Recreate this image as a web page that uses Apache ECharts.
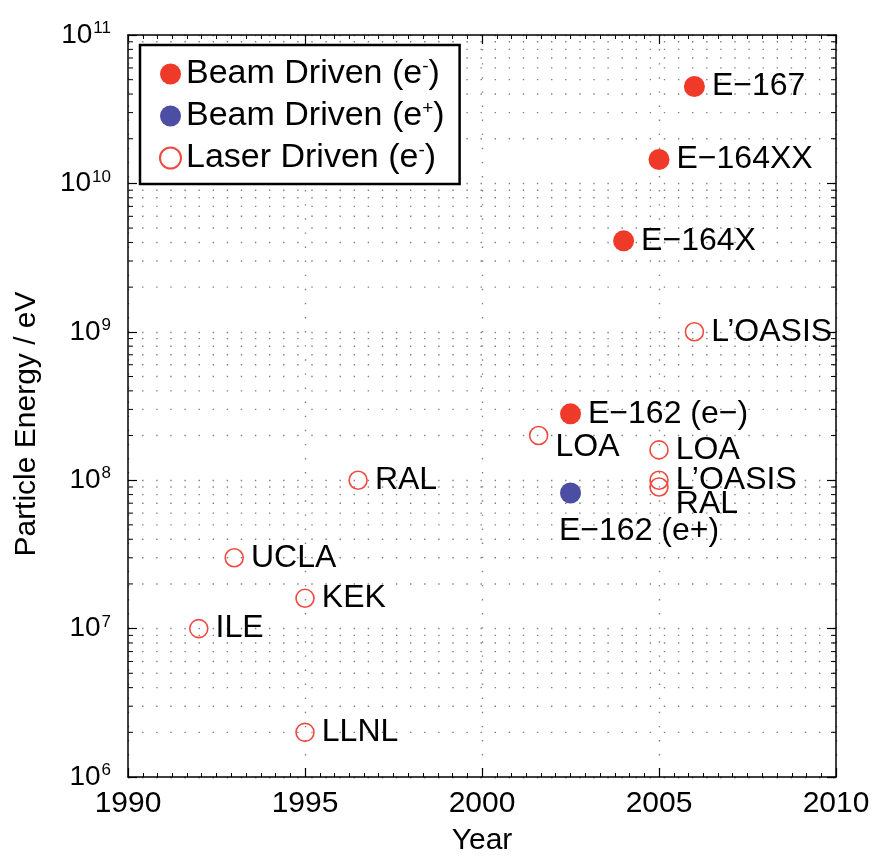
<!DOCTYPE html>
<html>
<head>
<meta charset="utf-8">
<script src="https://cdn.jsdelivr.net/npm/echarts@6/dist/echarts.min.js"></script>
<style>
  html, body { margin: 0; padding: 0; background: #fff; }
  #chart { width: 874px; height: 861px; }
</style>
</head>
<body>
<div id="chart"></div>
<script>
// ---------------- data ----------------
const beamEYears    = [2006, 2005, 2004, 2002.5];
const beamEEnergies = [4.5e10, 1.45e10, 4.1e9, 2.8e8];
const beamENames    = ['E\u2212167', 'E\u2212164XX', 'E\u2212164X', 'E\u2212162 (e\u2212)'];

const beamPYears    = [2002.5];
const beamPEnergies = [8.2e7];
const beamPNames    = ['E\u2212162 (e+)'];

const laserYears    = [2006, 2001.6, 2005, 2005, 2005, 1996.5, 1993, 1995, 1992, 1995];
const laserEnergies = [1e9, 2e8, 1.6e8, 1e8, 9e7, 1e8, 3e7, 1.6e7, 1e7, 2e6];
const laserNames    = ['L\u2019OASIS', 'LOA', 'LOA', 'L\u2019OASIS', 'RAL', 'RAL', 'UCLA', 'KEK', 'ILE', 'LLNL'];

const seriesNames = ['Beam Driven (e-)', 'Beam Driven (e+)', 'Laser Driven (e-)'];
const xTicks = [1990, 1995, 2000, 2005, 2010];
const yDecades = [6, 7, 8, 9, 10, 11];

// ---------------- styling (kept separate from data) ----------------
const RED = '#ef3a2a';
const BLUE = '#4b4ea3';
const HOLLOW = '#ef4a40';
const FONT = '"Liberation Sans", Arial, Helvetica, sans-serif';

// label offsets keyed by series and index
const labelOffsets = {
  'laser-1': { offset: [0, 12] },
  'laser-4': { offset: [0, 17] },
  'beamP-0': { offset: [-22, 38], distance: 0 }
};

function buildData(prefix, years, energies, names) {
  return years.map((y, i) => {
    const item = { value: [y, energies[i]], name: names[i] };
    const o = labelOffsets[prefix + '-' + i];
    if (o) item.label = Object.assign({}, o);
    return item;
  });
}

// minor log gridline values (2..9 x 10^k)
const minorVals = [];
for (let k = 6; k < 11; k++) {
  for (let m = 2; m <= 9; m++) minorVals.push([m * Math.pow(10, k)]);
}

const labelStyle = {
  show: true,
  position: 'right',
  distance: 7,
  formatter: p => p.name,
  color: '#000',
  fontFamily: FONT,
  fontSize: 32
};

const legendRich = {
  t: { fontFamily: FONT, fontSize: 34, color: '#000', lineHeight: 34 },
  s: { fontFamily: FONT, fontSize: 19, color: '#000', verticalAlign: 'top', lineHeight: 19 }
};

const chart = echarts.init(document.getElementById('chart'), null, { renderer: 'canvas' });

const G = { left: 128, top: 35, width: 708, height: 745 };

const dotted = { color: '#808080', width: 1.4, type: [1.4, 12.7] };

const option = {
  backgroundColor: '#fff',
  animation: false,
  grid: Object.assign({ show: false }, G),
  legend: {
    orient: 'vertical',
    left: 140,
    top: 45,
    data: seriesNames,
    backgroundColor: '#fff',
    borderColor: '#000',
    borderWidth: 2.5,
    borderRadius: 0,
    padding: [12, 15, 9, 19],
    itemWidth: 21,
    itemHeight: 21,
    itemGap: 8,
    itemTextGap: 20,
    selectedMode: false,
    formatter: function (name) {
      const m = name.match(/^(.*\(e)([-+])(\))$/);
      return '{t|' + m[1] + '}{s|' + m[2] + '}{t|' + m[3] + '}';
    },
    textStyle: { rich: legendRich, fontFamily: FONT, fontSize: 34 }
  },
  xAxis: [{
    type: 'value',
    min: 1990, max: 2010, interval: 5,
    position: 'bottom',
    axisLine: { show: true, lineStyle: { color: '#000', width: 1.5 } },
    axisTick: { show: true, inside: true, length: 9, lineStyle: { color: '#000', width: 1.2 } },
    minorTick: { show: true, splitNumber: 12, length: 4, lineStyle: { color: '#000', width: 1 } },
    axisLabel: { color: '#000', fontFamily: FONT, fontSize: 30, margin: 12,
      formatter: v => String(v) },
    splitLine: { show: true, lineStyle: dotted },
    name: 'Year',
    nameLocation: 'middle',
    nameGap: 49,
    nameTextStyle: { color: '#000', fontFamily: FONT, fontSize: 30 }
  }, {
    type: 'value',
    min: 1990, max: 2010, interval: 5,
    position: 'top',
    axisLine: { show: true, onZero: false, lineStyle: { color: '#000', width: 1.5 } },
    axisTick: { show: true, inside: true, length: 9, lineStyle: { color: '#000', width: 1.2 } },
    minorTick: { show: true, splitNumber: 12, length: 4, lineStyle: { color: '#000', width: 1 } },
    axisLabel: { show: false },
    splitLine: { show: false }
  }],
  yAxis: [{
    type: 'log',
    logBase: 10,
    min: 1e6, max: 1e11,
    position: 'left',
    axisLine: { show: true, onZero: false, lineStyle: { color: '#000', width: 1.5 } },
    axisTick: { show: true, inside: true, length: 9, lineStyle: { color: '#000', width: 1.2 } },
    axisLabel: {
      color: '#000', margin: 17,
      formatter: v => {
        const e = Math.round(Math.log10(v));
        return '{b|10}{s|' + e + '}';
      },
      rich: {
        b: { fontFamily: FONT, fontSize: 28, color: '#000', lineHeight: 30 },
        s: { fontFamily: FONT, fontSize: 17, color: '#000', verticalAlign: 'top', lineHeight: 12, padding: [0, 0, 0, 1] }
      }
    },
    splitLine: { show: true, lineStyle: dotted },
    name: 'Particle Energy / eV',
    nameLocation: 'middle',
    nameGap: 86,
    nameRotate: 90,
    nameTextStyle: { color: '#000', fontFamily: FONT, fontSize: 30, padding: [0, 36, 0, 0] }
  }, {
    type: 'log',
    logBase: 10,
    min: 1e6, max: 1e11,
    position: 'right',
    axisLine: { show: true, onZero: false, lineStyle: { color: '#000', width: 1.5 } },
    axisTick: { show: true, inside: true, length: 9, lineStyle: { color: '#000', width: 1.2 } },
    axisLabel: { show: false },
    splitLine: { show: false }
  }],
  series: [
    {
      name: 'minorGrid',
      type: 'custom',
      silent: true,
      z: 1,
      xAxisIndex: 0,
      yAxisIndex: 0,
      clip: false,
      encode: { y: 0 },
      data: minorVals,
      renderItem: function (params, api) {
        const cs = params.coordSys;
        const y = api.coord([1990, api.value(0)])[1];
        const x0 = cs.x, x1 = cs.x + cs.width;
        return {
          type: 'group',
          children: [
            { type: 'line', shape: { x1: x0, y1: y, x2: x1, y2: y },
              style: { stroke: dotted.color, lineWidth: dotted.width, lineDash: dotted.type } },
            { type: 'line', shape: { x1: x0, y1: y, x2: x0 + 5, y2: y },
              style: { stroke: '#000', lineWidth: 1 } },
            { type: 'line', shape: { x1: x1 - 5, y1: y, x2: x1, y2: y },
              style: { stroke: '#000', lineWidth: 1 } }
          ]
        };
      }
    },
    {
      name: seriesNames[0],
      type: 'scatter',
      z: 5,
      symbol: 'circle',
      symbolSize: 21,
      itemStyle: { color: RED, opacity: 1 },
      label: labelStyle,
      data: buildData('beamE', beamEYears, beamEEnergies, beamENames)
    },
    {
      name: seriesNames[1],
      type: 'scatter',
      z: 5,
      symbol: 'circle',
      symbolSize: 21,
      itemStyle: { color: BLUE, opacity: 1 },
      label: labelStyle,
      data: buildData('beamP', beamPYears, beamPEnergies, beamPNames)
    },
    {
      name: seriesNames[2],
      type: 'scatter',
      z: 5,
      symbol: 'circle',
      symbolSize: 18,
      itemStyle: { color: 'rgba(255,255,255,0)', borderColor: HOLLOW, borderWidth: 1.6, opacity: 1 },
      label: labelStyle,
      data: buildData('laser', laserYears, laserEnergies, laserNames)
    }
  ]
};

chart.setOption(option);
</script>
</body>
</html>
